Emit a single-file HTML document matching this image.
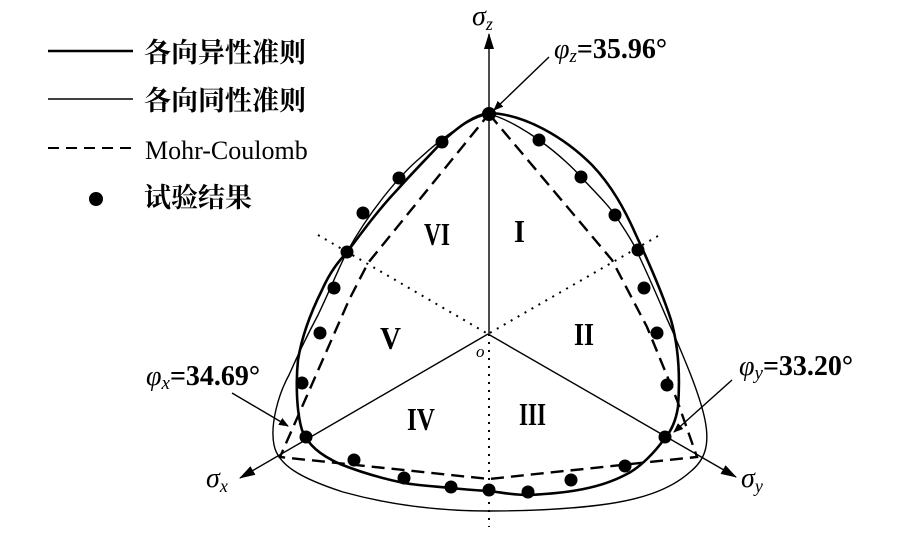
<!DOCTYPE html>
<html><head><meta charset="utf-8"><style>
html,body{margin:0;padding:0;background:#fff;}
svg{display:block}
.cj{font-family:"Liberation Serif","Noto Serif CJK SC","Noto Sans CJK SC",serif;font-weight:bold;}
.tm{font-family:"Liberation Serif",serif;}
</style></head><body>
<svg width="908" height="550" viewBox="0 0 908 550" xmlns="http://www.w3.org/2000/svg">
<defs>
<marker id="ar" markerWidth="10" markerHeight="8" refX="9" refY="4" orient="auto" markerUnits="userSpaceOnUse">
<path d="M0,0 L10,4 L0,8 Z" fill="#000"/></marker>
<marker id="ar2" markerWidth="16" markerHeight="10" refX="15" refY="5" orient="auto" markerUnits="userSpaceOnUse">
<path d="M0,0 L16,5 L0,10 Z" fill="#000"/></marker>
</defs>
<!-- legend -->
<line x1="48" y1="51" x2="133" y2="51" stroke="#000" stroke-width="2.6"/>
<line x1="48" y1="99" x2="133" y2="99" stroke="#000" stroke-width="1.4"/>
<line x1="48" y1="148" x2="133" y2="148" stroke="#000" stroke-width="2" stroke-dasharray="11,7"/>
<circle cx="96" cy="199" r="7" fill="#000"/>
<text x="144" y="62" class="cj" font-size="27">各向异性准则</text>
<text x="144" y="110" class="cj" font-size="27">各向同性准则</text>
<text x="145" y="159" class="tm" font-size="26">Mohr-Coulomb</text>
<text x="144" y="207" class="cj" font-size="27">试验结果</text>

<!-- dotted lines -->
<g stroke="#000" stroke-width="2" stroke-dasharray="2,6" fill="none">
<line x1="318" y1="235" x2="488" y2="334"/>
<line x1="658" y1="236" x2="488" y2="334"/>
<line x1="489" y1="334" x2="489" y2="527"/>
</g>
<!-- axes -->
<g stroke="#000" stroke-width="1.4" fill="none">
<line x1="489" y1="334" x2="489" y2="34" marker-end="url(#ar2)"/>
<line x1="488" y1="334" x2="240" y2="478" marker-end="url(#ar2)"/>
<line x1="488" y1="334" x2="736" y2="477" marker-end="url(#ar2)"/>
<line x1="549" y1="57" x2="494" y2="110" marker-end="url(#ar)"/>
<line x1="232" y1="393" x2="288" y2="426" marker-end="url(#ar)"/>
<line x1="732" y1="380" x2="674" y2="432" marker-end="url(#ar)"/>
</g>
<!-- Mohr-Coulomb -->
<polygon points="489,114 612,260 647,327 677,400 697,457 489,479 280,457 349,300 368,263" fill="none" stroke="#000" stroke-width="2.4" stroke-dasharray="13,7"/>
<!-- isotropic -->
<path d="M489,114 C505,118 525,130 539,140 C560,155 575,170 581,177 C598,195 608,205 615,215 C625,230 635,245 640,258 C655,290 665,315 672,330 C685,360 700,395 705,420 C710,445 705,460 690,472 C670,490 640,500 600,505 C560,510 520,511 489,511 C440,511 390,505 343,492 C300,478 278,465 274,445 C270,425 278,395 289,375 C300,350 310,330 318,315 C330,290 340,265 347,252 C370,210 400,175 420,158 C445,135 470,118 489,114 Z" fill="none" stroke="#000" stroke-width="1.4"/>
<!-- anisotropic -->
<path d="M489,113 C525,114 565,138 592,165 C612,186 625,210 636,235 C650,265 663,295 671,320 C679,348 680,380 678,407 C676,420 672,430 665,438 C655,452 640,468 625,475 C600,488 570,493 529,495 C510,495 500,492 489,491 C470,490 460,489 452,488 C430,486 415,485 404,483 C380,478 360,472 340,464 C320,455 308,445 302,430 C296,410 296,380 298,360 C302,335 312,310 322,290 C330,272 338,262 348,251 C365,228 380,208 398,189 C415,170 430,155 442,142 C460,125 475,115 489,113 Z" fill="none" stroke="#000" stroke-width="2.6"/>
<!-- dots -->
<g fill="#000">
<circle cx="489" cy="114" r="7"/>
<circle cx="442" cy="142" r="6.5"/><circle cx="399" cy="178" r="6.5"/><circle cx="363" cy="213" r="6.5"/>
<circle cx="347" cy="252" r="6.5"/><circle cx="334" cy="288" r="6.5"/><circle cx="320" cy="333" r="6.5"/>
<circle cx="302" cy="383" r="6.5"/><circle cx="306" cy="437" r="6.5"/>
<circle cx="539" cy="140" r="6.5"/><circle cx="581" cy="177" r="6.5"/><circle cx="615" cy="215" r="6.5"/>
<circle cx="638" cy="250" r="6.5"/><circle cx="644" cy="288" r="6.5"/><circle cx="657" cy="333" r="6.5"/>
<circle cx="667" cy="385" r="6.5"/><circle cx="665" cy="437" r="6.5"/>
<circle cx="354" cy="460" r="6.5"/><circle cx="404" cy="478" r="6.5"/><circle cx="451" cy="487" r="6.5"/>
<circle cx="489" cy="490" r="6.5"/><circle cx="528" cy="492" r="6.5"/><circle cx="571" cy="480" r="6.5"/>
<circle cx="625" cy="466" r="6.5"/>
</g>
<!-- region labels -->
<g font-family="Liberation Serif,serif" font-weight="bold" font-size="32" lengthAdjust="spacingAndGlyphs">
<text x="514" y="242" textLength="11" lengthAdjust="spacingAndGlyphs">I</text>
<text x="424" y="245" textLength="26" lengthAdjust="spacingAndGlyphs">VI</text>
<text x="574" y="345" textLength="20" lengthAdjust="spacingAndGlyphs">II</text>
<text x="380" y="349" textLength="21" lengthAdjust="spacingAndGlyphs">V</text>
<text x="407" y="430" textLength="28" lengthAdjust="spacingAndGlyphs">IV</text>
<text x="519" y="425" textLength="27" lengthAdjust="spacingAndGlyphs">III</text>
</g>
<text x="476" y="357" class="tm" font-style="italic" font-size="17">o</text>
<!-- axis labels -->
<text x="472" y="25" class="tm" font-style="italic" font-size="28">σ<tspan font-size="18" dy="5">z</tspan></text>
<text x="206" y="487" class="tm" font-style="italic" font-size="28">σ<tspan font-size="18" dy="5">x</tspan></text>
<text x="741" y="487" class="tm" font-style="italic" font-size="28">σ<tspan font-size="18" dy="5">y</tspan></text>
<!-- angle labels -->
<text x="554" y="58" class="tm" font-size="28"><tspan font-style="italic">φ</tspan><tspan font-style="italic" font-size="19" dy="4">z</tspan><tspan font-weight="bold" dy="-4">=35.96°</tspan></text>
<text x="146" y="385" class="tm" font-size="28"><tspan font-style="italic">φ</tspan><tspan font-style="italic" font-size="19" dy="4">x</tspan><tspan font-weight="bold" dy="-4">=34.69°</tspan></text>
<text x="739" y="375" class="tm" font-size="28"><tspan font-style="italic">φ</tspan><tspan font-style="italic" font-size="19" dy="4">y</tspan><tspan font-weight="bold" dy="-4">=33.20°</tspan></text>
</svg>
</body></html>
